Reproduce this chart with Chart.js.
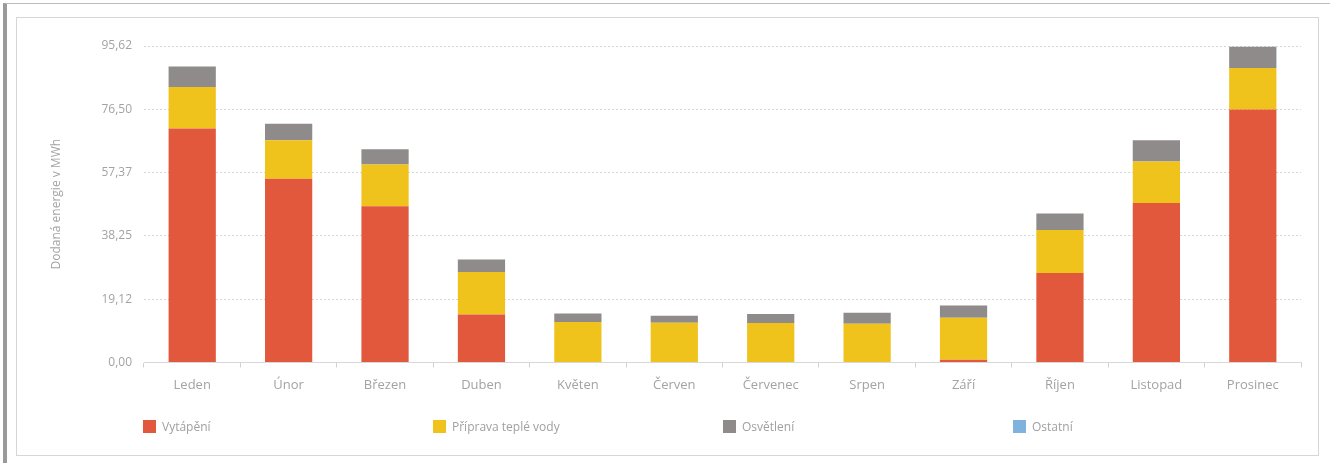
<!DOCTYPE html>
<html>
<head>
<meta charset="utf-8">
<script src="https://cdn.jsdelivr.net/npm/chart.js@4"></script>
<style>
    body { margin: 0; background: #fff; font-family: "Open Sans", sans-serif; }
    #wrap { position: relative; width: 1330px; height: 463px; overflow: hidden; }
    #scan { position: absolute; left: 3px; top: 3px; right: 0; bottom: 0; border-left: 4px solid #9a9a9a; border-top: 1px solid #bbb; }
    #frame { position: absolute; left: 16px; top: 17px; width: 1301px; height: 437px; border: 1px solid #d6d6d6; }
    canvas { position: absolute; left: 0; top: 0; }
    #legend { position: absolute; left: 143px; top: 418px; display: flex; }
    .item { width: 290px; display: flex; align-items: center; font-size: 12px; color: #a0a0a0; }
    .box { width: 13px; height: 13px; margin-right: 6px; }
</style>
</head>
<body>
<div id="wrap">
    <div id="scan"></div>
    <div id="frame"></div>
    <canvas id="myChart" width="1330" height="463"></canvas>
    <div id="legend"></div>
</div>
<script>
const months = ["Leden", "Únor", "Březen", "Duben", "Květen", "Červen", "Červenec", "Srpen", "Září", "Říjen", "Listopad", "Prosinec"];
const vytapeni = [70.7, 55.5, 47.2, 14.5, 0, 0, 0, 0, 0.8, 27.0, 48.2, 76.4];
const teplaVoda = [12.5, 11.6, 12.6, 12.8, 12.2, 12.0, 11.9, 11.7, 12.7, 13.0, 12.5, 12.6];
const osvetleni = [6.2, 5.0, 4.6, 3.8, 2.6, 2.1, 2.7, 3.3, 3.7, 5.0, 6.4, 6.4];
const ostatni = [0, 0, 0, 0, 0, 0, 0, 0, 0, 0, 0, 0];
const yTicks = ["0,00", "19,12", "38,25", "57,37", "76,50", "95,62"];
const yMax = 95.62;

const textColor = "#a3a3a3";

const ctx = document.getElementById("myChart");
const myChart = new Chart(ctx, {
    type: "bar",
    data: {
        labels: months,
        datasets: [
            { label: "Vytápění", data: vytapeni, backgroundColor: "#e2583d" },
            { label: "Příprava teplé vody", data: teplaVoda, backgroundColor: "#f0c31c" },
            { label: "Osvětlení", data: osvetleni, backgroundColor: "#8f8b8a" },
            { label: "Ostatní", data: ostatni, backgroundColor: "#7fb3dd" },
        ],
    },
    options: {
        responsive: false,
        animation: false,
        layout: { padding: { left: 45, top: 46, right: 29, bottom: 60 } },
        datasets: { bar: { barPercentage: 0.49, categoryPercentage: 1 } },
        plugins: { legend: { display: false }, tooltip: { enabled: false } },
        scales: {
            x: {
                stacked: true,
                grid: { offset: true, drawOnChartArea: false, tickLength: 5, color: "#d0d0d0" },
                border: { color: "#d8d8d8" },
                ticks: { color: textColor, font: { family: "Open Sans", size: 13 }, padding: 10 },
            },
            y: {
                stacked: true,
                min: 0,
                max: yMax,
                afterFit: (scale) => { scale.width = 99; },
                afterBuildTicks: (scale) => {
                    scale.ticks = yTicks.map((t, i) => ({ value: (yMax / (yTicks.length - 1)) * i }));
                },
                grid: { color: "#d6d6d6", drawTicks: false },
                border: { display: false, dash: [2, 2] },
                ticks: {
                    color: textColor,
                    font: { family: "Open Sans", size: 12 },
                    padding: 12,
                    callback: (v, i) => yTicks[i],
                },
                title: {
                    display: true,
                    text: "Dodaná energie v MWh",
                    color: textColor,
                    font: { family: "Open Sans", size: 12 },
                },
            },
        },
    },
});

// legend spread over four equal columns like the original
const legend = document.getElementById("legend");
myChart.data.datasets.forEach((ds) => {
    const item = document.createElement("div");
    item.className = "item";
    const box = document.createElement("span");
    box.className = "box";
    box.style.background = ds.backgroundColor;
    const txt = document.createElement("span");
    txt.textContent = ds.label;
    item.appendChild(box);
    item.appendChild(txt);
    legend.appendChild(item);
});
</script>
</body>
</html>
